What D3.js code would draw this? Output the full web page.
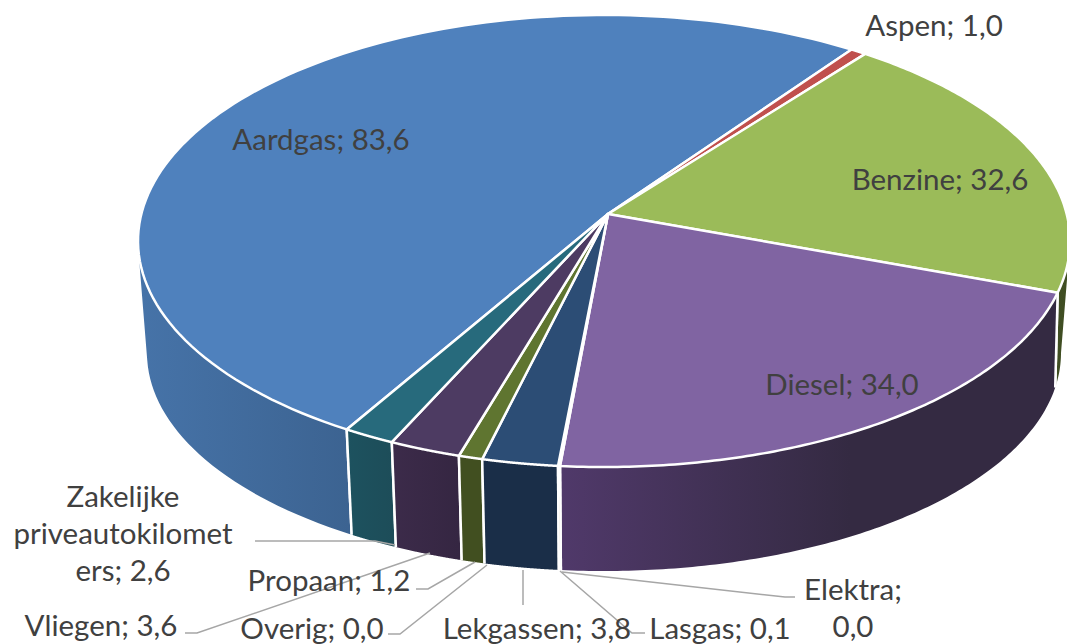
<!DOCTYPE html>
<html><head><meta charset="utf-8">
<script src="https://cdn.jsdelivr.net/npm/d3@7"></script>
<style>html,body{margin:0;padding:0;background:#fff;overflow:hidden}svg{display:block}text{font-family:Lato,"Open Sans",sans-serif;fill:#404040;font-size:29.5px}</style>
</head><body><svg id="c" width="1067" height="644"></svg>
<script>
const categories=["Aardgas","Aspen","Benzine","Diesel","Elektra","Lasgas","Lekgassen","Overig","Propaan","Vliegen","Zakelijke priveautokilometers"];
const values=[83.6,1.0,32.6,34.0,0.0,0.1,3.8,0.0,1.2,3.6,2.6];
const topColors=["#4f81bd","#c0504d","#9bbb59","#8064a2","#4bacc6","#f79646","#2c4d75","#772c2a","#5f7530","#4d3b62","#276a7c"];
const wallLeft=["#4673a8","#8a3a38","#4a5a2a","#50396a","#2a6","#a60","#1a2e48","#522","#414f20","#3c2b4a","#1d525f"];
const wallRight=["#3c6391","#7a3230","#3f4d22","#342a42","#2a6","#a60","#1a2e48","#522","#414f20","#352642","#1d4d59"];
const labelLayout=[
 {i:0,lines:["Aardgas; 83,6"],x:321,y:138},
 {i:1,lines:["Aspen; 1,0"],x:934,y:24},
 {i:2,lines:["Benzine; 32,6"],x:940,y:178},
 {i:3,lines:["Diesel; 34,0"],x:842,y:383},
 {i:4,lines:["Elektra;","0,0"],x:853,y:588},
 {i:5,lines:["Lasgas; 0,1"],x:720,y:627},
 {i:6,lines:["Lekgassen; 3,8"],x:537,y:627},
 {i:7,lines:["Overig; 0,0"],x:312,y:627},
 {i:8,lines:["Propaan; 1,2"],x:329,y:579},
 {i:9,lines:["Vliegen; 3,6"],x:101,y:624},
 {i:10,lines:["Zakelijke","priveautokilomet","ers; 2,6"],x:123,y:495}
];
const leaders=[
 {i:4,pts:[[785,597],[795,597]],from:[562,572]},
 {i:5,pts:[[632,633],[645,633]],from:[560,571]},
 {i:6,pts:[[523,605]],from:[523,570]},
 {i:7,pts:[[400,634],[388,634]],from:[487,565]},
 {i:8,pts:[[428,589],[416,589]],from:[475,562]},
 {i:9,pts:[[197,633],[185,633]],from:[430,553]},
 {i:10,pts:[[255,541]],from:[395,545],via:[375,541]}
];
const svg=d3.select("#c");
const top_={cx:604,cy:241,rx:466,ry:226};
const bot={cx:604,cy:353,rx:457,ry:218};
const apex=[(608-top_.cx)/top_.rx,(214-top_.cy)/top_.ry];
function proj(th,r){
  const px=r*Math.sin(th),py=-r*Math.cos(th);
  const [ax,ay]=apex,a2=ax*ax+ay*ay,d=1+ax*px+ay*py,s=Math.sqrt(1-a2);
  const dot=(px*ax+py*ay)/(a2||1);
  const parx=dot*ax,pary=dot*ay;
  return [(ax+parx+s*(px-parx))/d,(ay+pary+s*(py-pary))/d];
}
const onE=(e,th)=>{const p=proj(th,1);return [e.cx+e.rx*p[0],e.cy+e.ry*p[1]];};
// the lower rim runs slightly behind the upper rim on the right-hand side
const rad=Math.PI/180;
const onBot=th=>{
  const deg=th/rad;
  const shift=deg>30?4*Math.min(1,Math.max(0,(175-deg)/65)):0;
  return onE(bot,th-shift*rad);
};
const startDeg=-149.7;
const arcs=d3.pie().sort(null).value(d=>d).startAngle(startDeg*rad).endAngle((startDeg+360)*rad)(values);
const angles=(a,n=120)=>d3.range(0,n+1).map(k=>a.startAngle+(a.endAngle-a.startAngle)*k/n);
const line=d3.line();
const defs=svg.append("defs");
arcs.forEach((a,i)=>{
  const g=defs.append("linearGradient").attr("id","w"+i).attr("gradientUnits","userSpaceOnUse");
  const xs=angles(a).map(t=>onE(top_,t)[0]);
  const vis=i===0?[140,350]:i===3?[561,850]:d3.extent(xs);
  g.attr("x1",vis[0]).attr("x2",vis[1]).attr("y1",0).attr("y2",0);
  g.append("stop").attr("offset",0).attr("stop-color",wallLeft[i]);
  g.append("stop").attr("offset",1).attr("stop-color",wallRight[i]);
});
const order=d3.range(arcs.length).sort((p,q)=>onE(top_,(arcs[p].startAngle+arcs[p].endAngle)/2)[1]-onE(top_,(arcs[q].startAngle+arcs[q].endAngle)/2)[1]);
order.forEach(i=>{
  const a=arcs[i];
  if(a.endAngle-a.startAngle<=0)return;
  const t=angles(a);
  let d="";
  for(let k=0;k<t.length-1;k++){
    let q=[onE(top_,t[k]),onE(top_,t[k+1]),onBot(t[k+1]),onBot(t[k])];
    if(d3.polygonArea(q)<0)q=q.reverse();
    d+=line(q)+"Z";
  }
  svg.append("path").attr("d",d).attr("fill",`url(#w${i})`).attr("fill-rule","nonzero");
  [a.startAngle,a.endAngle].forEach(x=>{
    svg.append("path").attr("d",line([onE(top_,x),onBot(x)])).attr("stroke","#fff").attr("stroke-width",2.5).attr("fill","none");
  });
});
arcs.forEach((a,i)=>{
  if(a.endAngle-a.startAngle<=0)return;
  const c=[top_.cx+top_.rx*apex[0],top_.cy+top_.ry*apex[1]];
  svg.append("path").attr("d",line([c].concat(angles(a).map(x=>onE(top_,x))))+"Z").attr("fill",topColors[i]).attr("stroke","#fff").attr("stroke-width",2.5).attr("stroke-linejoin","round");
});
leaders.forEach(l=>{
  const pts=[l.from].concat(l.via?[l.via]:[]).concat(l.pts);
  svg.append("path").attr("d",line(pts)).attr("fill","none").attr("stroke","#a6a6a6").attr("stroke-width",1.5);
});
labelLayout.forEach(l=>{
  l.lines.forEach((s,k)=>{
    svg.append("text").attr("x",l.x).attr("y",l.y+k*37).attr("text-anchor","middle").attr("dominant-baseline","central").text(s);
  });
});
</script></body></html>
